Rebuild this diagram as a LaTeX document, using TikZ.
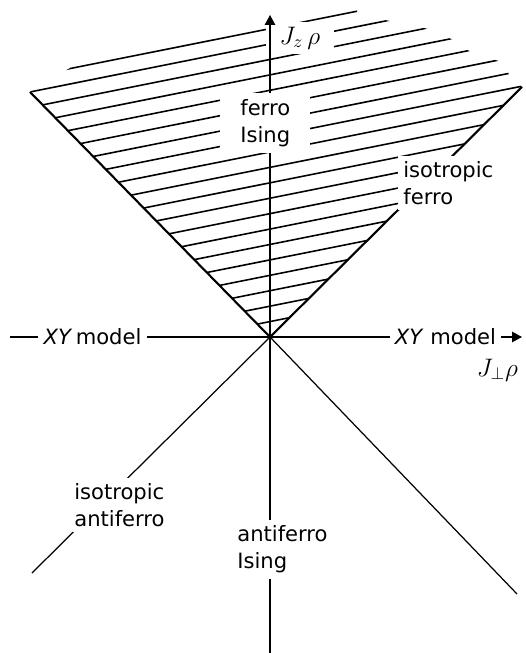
\documentclass[tikz,border=0pt]{standalone}
\usepackage{fontspec}
\setmainfont{DejaVu Sans}
\usetikzlibrary{arrows.meta}

\begin{document}
\begin{tikzpicture}[
    region/.style={fill=white, align=left, inner sep=0.1cm,
                   font=\fontsize{12}{15.5}\selectfont},
    axislabel/.style={inner sep=0.1cm, font=\fontsize{12}{15}\selectfont},
    coupling/.style={inner sep=0.1cm, font=\fontsize{14}{16}\selectfont},
    axisline/.style={line width=0.7pt},
    arrow/.style={-{Triangle[length=2mm, width=2.1mm]}, line width=0.7pt},
    bound/.style={line width=1.2pt},
    diag/.style={line width=0.7pt},
    hatch/.style={line width=0.9pt}
]
    \useasboundingbox (-5.4,-6.32) rectangle (5.12,6.74);

    \coordinate (O) at (0,0);
    \coordinate (C) at (-4.8,4.9);
    \coordinate (R) at (5.04,5.0);
    \coordinate (LL) at (-4.76,-4.72);
    \coordinate (LR) at (4.94,-5.14);
    \coordinate (ztip) at (0,6.44);
    \coordinate (zbot) at (0,-6.32);
    \coordinate (xL) at (-5.2,0);
    \coordinate (xtip) at (5.04,0);

    % Hatched ferro region
    \begin{scope}
        \clip (O) -- (C) -- (-4.0,5.38) -- (-4.0,6.74) -- (1.74,6.74) -- (1.74,6.45)
            -- (2.5,6.3) -- (3.26,6.14) -- (3.7,5.92) -- (4.04,5.68) -- (4.64,5.5)
            -- (4.8,5.22) -- (R) -- cycle;
        \foreach \j in {1,...,20}
            \draw[hatch] (-4.8*\j/19, 4.9*\j/19) -- ++(11.3:11);
    \end{scope}

    % Isotropic lines
    \draw[bound] (O) -- (C);
    \draw[bound] (O) -- (R);
    \draw[diag] (O) -- (LL);
    \draw[diag] (O) -- (LR);

    % Labels
    \node[coupling, fill=white, inner xsep=0.28cm] (jz) at (0.6,5.98) {$J_z\,\rho$};
    \node[region, anchor=west, inner xsep=0.4cm, inner ysep=0.12cm] (fI) at (-1.0,4.28) {ferro\\Ising};
    \node[region, anchor=west] (isoF) at (2.56,3.08) {isotropic\\ferro};
    \node[region, anchor=west] (isoAF) at (-4.02,-3.36) {isotropic\\antiferro};
    \node[region, anchor=west, fill=none, inner ysep=0.1cm] (afI) at (-0.76,-4.25) {antiferro\\Ising};
    \node[axislabel] (xyL) at (-3.55,0) {\textit{XY}\,model};
    \node[axislabel] (xyR) at (3.51,0) {\textit{XY} model};
    \node[coupling, inner sep=0.02cm] (jp) at (4.55,-0.66) {$J_\perp\rho$};

    % Axes
    \draw[arrow] (O |- fI.north) -- (ztip);
    \draw[axisline] (O |- fI.south) -- (O |- afI.north);
    \draw[axisline] (O |- afI.south) -- (zbot);
    \draw[axisline] (xL) -- (xyL.west);
    \draw[axisline] (xyL.east) -- (xyR.west);
    \draw[arrow] (xyR.east) -- (xtip);
\end{tikzpicture}
\end{document}
